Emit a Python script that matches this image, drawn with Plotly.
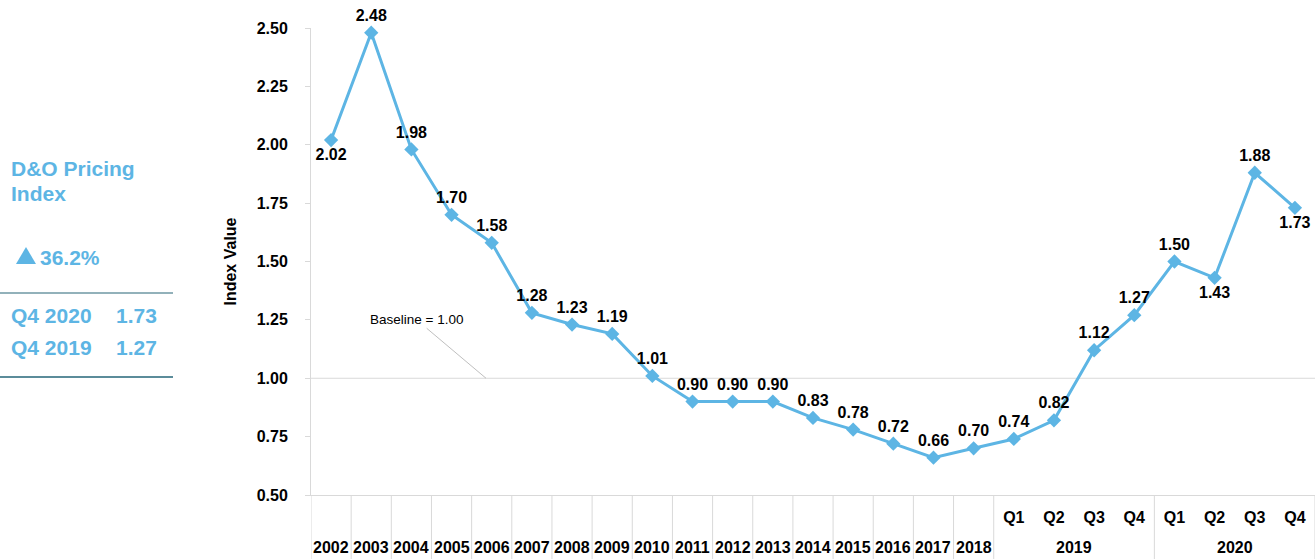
import plotly.graph_objects as go

# Period labels: annual points 2002-2018, then quarterly points for 2019-2020
years = [str(y) for y in range(2002, 2019)] + ["2019"] * 4 + ["2020"] * 4
quarters = [""] * 17 + ["Q1", "Q2", "Q3", "Q4"] * 2
index_values = [2.02, 2.48, 1.98, 1.70, 1.58, 1.28, 1.23, 1.19, 1.01, 0.90,
                0.90, 0.90, 0.83, 0.78, 0.72, 0.66, 0.70,
                0.74, 0.82, 1.12, 1.27,
                1.50, 1.43, 1.88, 1.73]
y_ticks = [0.50, 0.75, 1.00, 1.25, 1.50, 1.75, 2.00, 2.25, 2.50]

baseline = 1.00
pct_change = "36.2%"
summary_rows = [("Q4 2020", "1.73"), ("Q4 2019", "1.27")]

# points whose value label sits under the marker
labels_below = {0, 22, 24}

BLUE = "#5DB5E4"
GRID = "#D9D9D9"
FONT = "Liberation Sans, Arial, sans-serif"

W, H = 1316, 559
L, R, T, B = 311, 1, 28, 64
PW, PH = W - L - R, H - T - B


def px_x(x):
    return (x - L) / PW


def px_y(y):
    return (H - B - y) / PH


# unique category key per point; quarter names are shown as tick text
keys = [f"{y} {q}".strip() for y, q in zip(years, quarters)]
n = len(keys)

text_pos = ["bottom center" if i in labels_below else "top center"
            for i in range(n)]

fig = go.Figure()
fig.add_trace(go.Scatter(
    x=keys,
    y=index_values,
    mode="lines+markers+text",
    line=dict(color=BLUE, width=3),
    marker=dict(symbol="diamond", size=11, color=BLUE),
    text=[f"{v:.2f}" for v in index_values],
    textposition=text_pos,
    textfont=dict(family=FONT, size=16, color="#000000", weight="bold"),
    cliponaxis=False,
    showlegend=False,
))

tick_font = dict(family=FONT, size=16, color="#000000", weight="bold")

fig.update_layout(
    width=W, height=H,
    margin=dict(l=L, r=R, t=T, b=B),
    paper_bgcolor="white",
    plot_bgcolor="white",
    font=dict(family=FONT, color="#000000"),
    xaxis=dict(
        type="category",
        categoryorder="array", categoryarray=keys,
        tickvals=keys, ticktext=quarters,
        showline=True, linecolor=GRID, linewidth=1,
        showgrid=False, ticks="",
        ticklabelstandoff=8,
        tickfont=tick_font,
        range=[-0.5, n - 0.5],
    ),
    yaxis=dict(
        range=[0.5, 2.5],
        tickvals=y_ticks,
        tickformat=".2f",
        showgrid=False,
        showline=True, linecolor=GRID, linewidth=1,
        ticks="outside", ticklen=5, tickcolor=GRID,
        ticklabelstandoff=14,
        tickfont=tick_font,
        title=dict(text="Index Value", standoff=16,
                   font=dict(family=FONT, size=16, color="#000000", weight="bold")),
        zeroline=False,
    ),
)

# group boundaries along the category axis (one per year, one per quarterly year)
bounds = []
prev = None
for i, y in enumerate(years):
    if y != prev:
        bounds.append(i - 0.5)
    prev = y
bounds.append(n - 0.5)

shapes = [
    # baseline reference line
    dict(type="line", xref="paper", yref="y", x0=0, x1=1, y0=baseline, y1=baseline,
         line=dict(color=GRID, width=1), layer="below"),
]
for b in bounds:
    shapes.append(dict(type="line", xref="x", yref="paper", x0=b, x1=b,
                       y0=0, y1=px_y(H), line=dict(color=GRID, width=1)))

# summary panel rules and arrow marker
shapes += [
    dict(type="line", xref="paper", yref="paper", x0=px_x(0), x1=px_x(173),
         y0=px_y(293), y1=px_y(293), line=dict(color="#6E97A3", width=1.5)),
    dict(type="line", xref="paper", yref="paper", x0=px_x(0), x1=px_x(173),
         y0=px_y(377), y1=px_y(377), line=dict(color="#5B8C9A", width=2)),
    dict(type="path", xref="paper", yref="paper",
         path=(f"M {px_x(16)},{px_y(264)} L {px_x(26)},{px_y(247)} "
               f"L {px_x(36)},{px_y(264)} Z"),
         fillcolor=BLUE, line=dict(width=0)),
]
fig.update_layout(shapes=shapes)

annotations = [
    dict(text="Baseline = 1.00", xref="paper", yref="y", x=px_x(486), y=baseline,
         showarrow=True, arrowhead=0, arrowwidth=1, arrowcolor="#BFBFBF",
         ax=-70, ay=-59, font=dict(family=FONT, size=13.5, color="#000000")),
]

# year labels on the lower row, centred under each group
groups = {}
for i, y in enumerate(years):
    groups.setdefault(y, []).append(i)
for y, idx in groups.items():
    annotations.append(dict(text=y, xref="x", yref="paper",
                            x=sum(idx) / len(idx), y=px_y(547),
                            xanchor="center", yanchor="middle",
                            showarrow=False, font=tick_font))

panel_font = dict(family=FONT, size=21, color=BLUE, weight="bold")


def panel_text(txt, x, y, **kw):
    d = dict(text=txt, xref="paper", yref="paper", x=px_x(x), y=px_y(y),
             xanchor="left", yanchor="middle", showarrow=False, font=panel_font)
    d.update(kw)
    return d


annotations += [
    panel_text("D&O Pricing", 9, 168),
    panel_text("Index", 9, 193),
    panel_text(pct_change, 38, 257),
]
for i, (period, val) in enumerate(summary_rows):
    yy = 315 + 32 * i
    annotations.append(panel_text(period, 9, yy))
    annotations.append(panel_text(val, 114, yy))

fig.update_layout(annotations=annotations)

fig.write_html("out.html")
